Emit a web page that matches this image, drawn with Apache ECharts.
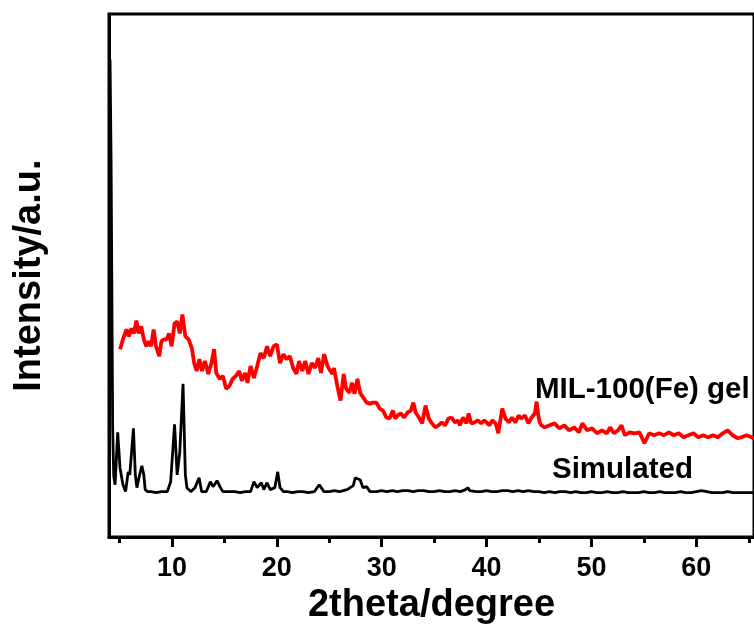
<!DOCTYPE html>
<html><head><meta charset="utf-8">
<script src="https://cdn.jsdelivr.net/npm/echarts@6/dist/echarts.min.js"></script>
<style>html,body{margin:0;padding:0;background:#fff}#c{width:754px;height:630px}</style>
</head><body><div id="c"></div>
<script>
const FONT = "'Liberation Sans', Arial, sans-serif";
const xMin = 4, xMax = 65.5;
const majorTicks = [10, 20, 30, 40, 50, 60];
const minorTicks = [5, 15, 25, 35, 45, 55, 65];
const xTitle = '2theta/degree';
const yTitle = 'Intensity/a.u.';
const gelName = 'MIL-100(Fe) gel';
const simName = 'Simulated';

const simDeg = [4.1,4.2,4.3,4.35,4.45,4.58,4.83,5.05,5.21,5.33,5.58,5.83,5.98,6.33,6.51,6.66,6.92,7.13,7.32,7.45,7.69,8.0,8.5,9.0,9.56,9.88,10.25,10.5,10.75,11.06,11.28,11.43,11.8,12.2,12.59,12.83,13.27,13.67,13.93,14.3,14.58,14.86,15.5,16.0,16.5,17.0,17.5,17.82,18.13,18.53,18.76,19.07,19.37,19.81,20.09,20.31,20.63,21.0,21.5,22.0,22.5,23.0,23.58,24.05,24.49,25.0,25.5,26.0,26.7,27.29,27.48,27.69,27.94,28.22,28.57,28.88,29.5,30,30.5,31,31.5,32,32.5,33,33.5,34,34.5,35,35.5,36,36.5,37,37.5,38,38.2,38.4,39,39.5,40,40.5,41,41.5,42,42.5,43,43.5,44,44.5,45,45.5,46,46.5,47,47.5,48,48.5,49,49.5,50,50.5,51,51.5,52,52.5,53,53.5,54,54.5,55,55.5,56,56.5,57,57.5,58,58.5,59,59.5,60,60.5,61,61.5,62,62.5,63,63.5,64,64.5,65,65.5];
const simInt = [483,380,200,110,62,53,106,70,71,53,46,66,63,110,63,50,63,72,63,48,46,46,45,46,46,56,114,63,86,155,63,50,46,50,60,46,46,56,51,57,51,46,46,46,45,46,46,56,50,55,48,55,48,50,66,50,46,46,45,46,46,45,46,53,46,46,47,46,48,52,60,59,58,50,51,46,46,47,46,47,46,47,47,46,47,47,46,46,47,46,46,47,46,48,50,47,46,46,47,46,46,47,47,46,47,46,47,46,46,45,46,45,46,46,45,46,45,45,46,45,45,46,45,45,46,45,45,45,46,45,45,46,45,45,45,46,45,45,46,47,46,45,45,45,46,45,45,45,45,45];

const gelDeg = [5.05,5.36,5.67,5.89,6.14,6.38,6.61,6.82,7.07,7.32,7.54,7.79,8.01,8.25,8.48,8.79,9.0,9.25,9.5,9.72,9.97,10.25,10.5,10.75,11.0,11.28,11.59,11.9,12.12,12.36,12.62,12.87,13.15,13.46,13.77,14.02,14.23,14.55,14.86,15.17,15.49,15.79,16.1,16.42,16.66,16.98,17.2,17.5,17.82,18.13,18.44,18.76,19.07,19.37,19.69,20.0,20.31,20.63,20.93,21.24,21.56,21.87,22.12,22.43,22.71,23.02,23.34,23.64,23.95,24.21,24.51,24.83,25.0,25.3,25.45,25.77,26.07,26.38,26.61,26.92,27.17,27.41,27.69,27.94,28.25,28.57,28.88,29.19,29.5,29.81,30.12,30.44,30.75,31.06,31.28,31.52,31.84,32.15,32.46,32.78,33.02,33.24,33.55,33.86,34.18,34.49,34.79,35.11,35.42,35.73,36.05,36.36,36.66,36.98,37.29,37.45,37.76,38.07,38.29,38.53,38.85,39.16,39.47,39.79,40.0,40.25,40.56,40.87,41.12,41.5,41.8,42.12,42.43,42.74,43.06,43.3,43.67,43.99,44.3,44.6,44.77,44.95,45.07,45.23,45.54,46.01,46.48,46.94,47.41,47.88,48.35,48.81,49.13,49.6,50.07,50.53,51.0,51.47,51.78,52.15,52.55,52.87,53.18,53.64,54.11,54.58,55.05,55.51,55.98,56.45,56.92,57.38,57.85,58.32,58.79,59.25,59.72,60.19,60.65,61.12,61.59,62.06,62.52,62.99,63.46,63.93,64.3,64.8,65.5];
const gelInt = [190,201,210,203,211,206,219,206,213,200,193,198,193,210,193,183,198,200,200,206,193,216,218,206,225,203,200,191,176,168,180,168,178,165,176,190,166,160,163,150,153,160,163,168,158,166,156,173,161,173,186,181,193,183,193,195,176,185,180,183,171,165,178,168,178,165,176,171,181,166,185,173,170,165,171,153,138,165,150,146,156,145,160,146,141,136,135,136,136,130,128,121,120,128,120,123,125,121,126,128,136,126,121,115,133,120,115,111,113,116,113,120,121,116,118,113,121,115,125,115,116,118,115,118,116,113,118,115,105,130,120,116,121,116,123,120,123,115,121,125,137,122,116,113,111,113,115,110,113,108,111,106,115,108,110,105,108,105,111,105,108,113,103,106,105,106,95,105,103,105,103,106,103,105,101,103,105,101,103,101,103,101,105,108,103,100,101,103,100];

const pair = (xs, ys) => xs.map((x, i) => [x, ys[i]]);

const chart = echarts.init(document.getElementById('c'), null, {renderer: 'canvas'});
chart.setOption({
  animation: false,
  backgroundColor: '#fff',
  grid: {left: 109, top: 14, width: 658, height: 529, show: true, borderColor: '#000', borderWidth: 3, backgroundColor: 'transparent'},
  xAxis: [{
    type: 'value', min: xMin, max: xMax, position: 'bottom',
    axisLine: {show: true, onZero: false, lineStyle: {color: '#000', width: 3}},
    axisTick: {show: true, customValues: majorTicks, length: 10, lineStyle: {color: '#000', width: 3}},
    axisLabel: {show: true, customValues: majorTicks, margin: 18, color: '#000', fontSize: 27, fontWeight: 'bold', fontFamily: FONT},
    splitLine: {show: false},
    name: xTitle, nameLocation: 'middle', nameGap: 43,
    nameTextStyle: {color: '#000', fontSize: 38, fontWeight: 'bold', fontFamily: FONT}
  }, {
    type: 'value', min: xMin, max: xMax, position: 'bottom',
    axisLine: {show: false, onZero: false},
    axisTick: {show: true, customValues: minorTicks, length: 6, lineStyle: {color: '#000', width: 3}},
    axisLabel: {show: false},
    splitLine: {show: false}
  }],
  yAxis: {
    type: 'value', min: 0, max: 529,
    axisLine: {show: true, onZero: false, lineStyle: {color: '#000', width: 3}},
    axisTick: {show: false}, axisLabel: {show: false}, splitLine: {show: false},
    name: yTitle, nameLocation: 'middle', nameGap: 60,
    nameTextStyle: {color: '#000', fontSize: 38, fontWeight: 'bold', fontFamily: FONT}
  },
  series: [{
    name: simName, type: 'line', xAxisIndex: 0, data: pair(simDeg, simInt),
    showSymbol: false, symbol: 'none', lineStyle: {color: '#000', width: 2.8}, z: 3
  }, {
    name: gelName, type: 'line', xAxisIndex: 0, data: pair(gelDeg, gelInt),
    showSymbol: false, symbol: 'none', lineStyle: {color: '#ff0000', width: 3.8}, z: 4
  }],
  graphic: [{
    type: 'text', left: 535, top: 375, z: 10,
    style: {text: gelName, fill: '#000', font: 'bold 29.5px ' + FONT}
  }, {
    type: 'text', left: 552, top: 455, z: 10,
    style: {text: simName, fill: '#000', font: 'bold 29.5px ' + FONT}
  }]
});
</script>
</body></html>
